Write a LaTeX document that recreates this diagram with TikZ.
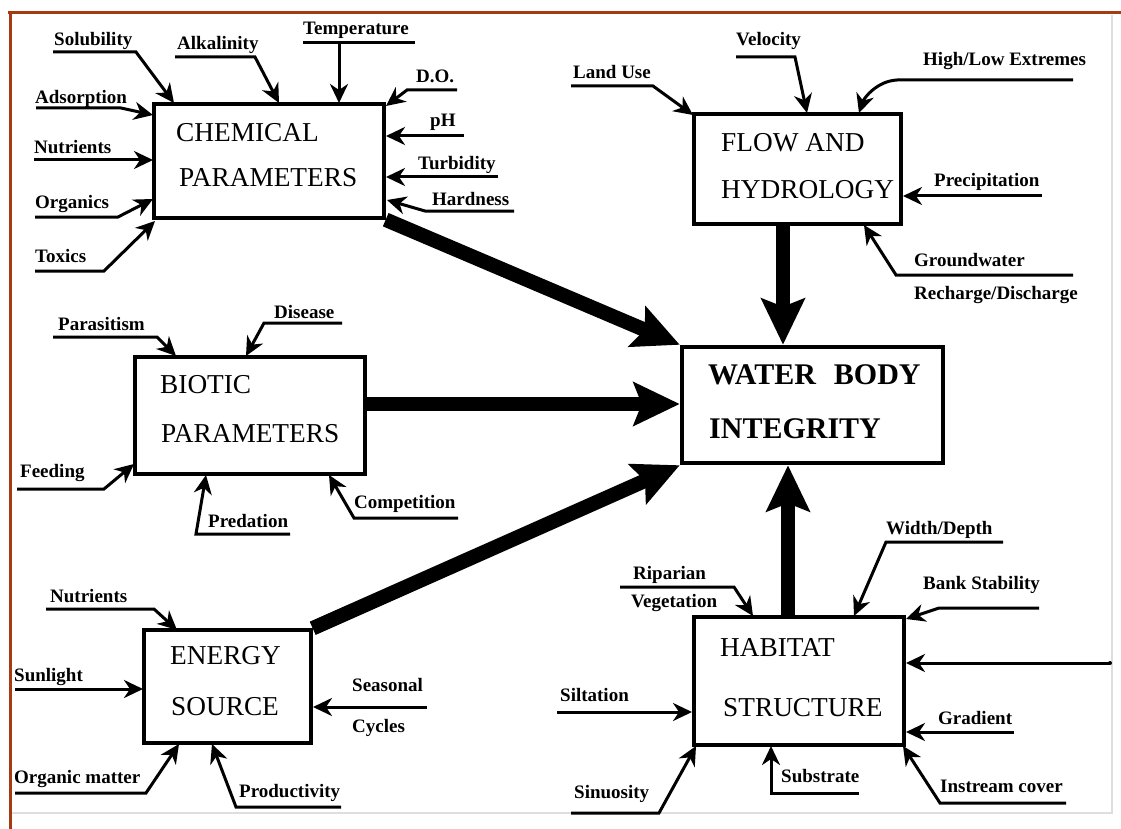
\documentclass[tikz,border=0pt]{standalone}
\usepackage{fontspec}
\setmainfont{Liberation Serif}
\usetikzlibrary{arrows.meta}
\definecolor{framebrown}{RGB}{168,58,18}
\definecolor{framegray}{RGB}{222,222,222}
\begin{document}
\begin{tikzpicture}[x=1pt,y=-1pt,
  lab/.style={font=\fontsize{19}{22}\selectfont\bfseries, anchor=west, inner sep=0pt, text height=12.8pt, text depth=0pt},
  ttl/.style={font=\fontsize{27.3}{31}\selectfont, anchor=west, inner sep=0pt, text height=18pt, text depth=0pt},
  bigttl/.style={font=\fontsize{30}{34}\selectfont\bfseries, anchor=west, inner sep=0pt, text height=20.3pt, text depth=0pt},
  boxnode/.style={draw, line width=3.4pt, rectangle, inner sep=0pt},
  inarrow/.style={line width=3pt, -{Stealth[length=19pt,width=18pt,inset=6pt]}},
  plainline/.style={line width=3pt},
  bigarrow/.style={line width=14.5pt, -{Stealth[length=46pt,width=43pt,inset=8pt]}}]
\useasboundingbox (0,0) rectangle (1121,829);
\fill[white] (0,0) rectangle (1121,829);
% frame
\draw[framegray, line width=1.2pt] (12,813) -- (1112,813) -- (1112,15);
\draw[framebrown, line width=3pt] (8,13) -- (1121,13);
\draw[framebrown, line width=3pt] (10,12) -- (10,829);

% boxes
\node[boxnode, minimum width=230pt, minimum height=114pt] (chem) at (269,161) {};
\node[boxnode, minimum width=207pt, minimum height=110pt] (flow) at (797.5,169) {};
\node[boxnode, minimum width=230pt, minimum height=117pt] (biotic) at (250,415.5) {};
\node[boxnode, line width=4.5pt, minimum width=261pt, minimum height=116pt] (water) at (812.5,405) {};
\node[boxnode, minimum width=167pt, minimum height=113pt] (energy) at (227.5,686.5) {};
\node[boxnode, minimum width=210pt, minimum height=128pt] (habitat) at (799,681) {};

% titles
\node[ttl] (t1) at (176,133) {CHEMICAL};
\node[ttl] (t2) at (179,178) {PARAMETERS};
\node[ttl] (t3) at (721,143) {FLOW AND};
\node[ttl] (t4) at (721,190) {HYDROLOGY};
\node[ttl] (t5) at (160,384) {BIOTIC};
\node[ttl] (t6) at (161,433) {PARAMETERS};
\node[ttl] (t7) at (170,655) {ENERGY};
\node[ttl] (t8) at (171,706) {SOURCE};
\node[ttl] (t9) at (720,647) {HABITAT};
\node[ttl] (t10) at (723,707) {STRUCTURE};
\node[bigttl] (t11) at (708,374) {WATER\hspace{0.6em}BODY};
\node[bigttl] (t12) at (709,428) {INTEGRITY};

% thick arrows
\coordinate (fwx) at (783,0);
\coordinate (bwy) at (0,404);
\coordinate (hwx) at (788,0);
\draw[bigarrow] (chem.south east) -- (water.north west);
\draw[bigarrow] (flow.south -| fwx) -- (water.north -| fwx);
\draw[bigarrow] (biotic.east |- bwy) -- (water.west |- bwy);
\draw[bigarrow] (energy.north east) -- (water.south west);
\draw[bigarrow] (habitat.north -| hwx) -- (water.south -| hwx);

% ---- chemical inputs
\node[lab] (l1) at (54,39) {Solubility};
\coordinate (a1) at (53,52); \coordinate (b1) at (136,52); \coordinate (c1) at (174,103);
\draw[inarrow] (a1) -- (b1) -- (c1);
\node[lab] (l2) at (177,43) {Alkalinity};
\coordinate (a2) at (175,57); \coordinate (b2) at (255,57); \coordinate (c2) at (279,103);
\draw[inarrow] (a2) -- (b2) -- (c2);
\node[lab] (l3) at (303,28) {Temperature};
\coordinate (a3) at (303,43); \coordinate (b3) at (415,43); \coordinate (m3) at (339,43); \coordinate (c3) at (339,103);
\draw[plainline] (a3) -- (b3);
\draw[inarrow] (m3) -- (c3);
\node[lab] (l4) at (416,76) {D.O.};
\coordinate (a4) at (457,90); \coordinate (b4) at (407,90); \coordinate (c4) at (386,106);
\draw[inarrow] (a4) -- (b4) -- (c4);
\node[lab] (l5) at (430,120) {pH};
\coordinate (a5) at (464,136); \coordinate (c5) at (386,136);
\draw[inarrow] (a5) -- (c5);
\node[lab] (l6) at (418,163) {Turbidity};
\coordinate (a6) at (498,177); \coordinate (c6) at (386,177);
\draw[inarrow] (a6) -- (c6);
\node[lab] (l7) at (432,199) {Hardness};
\coordinate (a7) at (514,211); \coordinate (b7) at (425,211); \coordinate (c7) at (387,200);
\draw[inarrow] (a7) -- (b7) -- (c7);
\node[lab] (l8) at (35,97) {Adsorption};
\coordinate (a8) at (36,108); \coordinate (b8) at (121,108); \coordinate (c8) at (153,115);
\draw[inarrow] (a8) -- (b8) -- (c8);
\node[lab] (l9) at (34,147) {Nutrients};
\coordinate (a9) at (34,160); \coordinate (c9) at (153,160);
\draw[inarrow] (a9) -- (c9);
\node[lab] (l10) at (35,202) {Organics};
\coordinate (a10) at (35,217); \coordinate (b10) at (118,217); \coordinate (c10) at (153,199);
\draw[inarrow] (a10) -- (b10) -- (c10);
\node[lab] (l11) at (35,256) {Toxics};
\coordinate (a11) at (35,271); \coordinate (b11) at (104,271); \coordinate (c11) at (155,221);
\draw[inarrow] (a11) -- (b11) -- (c11);

% ---- flow inputs
\node[lab] (l12) at (573,72) {Land Use};
\coordinate (a12) at (571,86); \coordinate (b12) at (653,86); \coordinate (c12) at (693,115);
\draw[inarrow] (a12) -- (b12) -- (c12);
\node[lab] (l13) at (736,39) {Velocity};
\coordinate (a13) at (736,57); \coordinate (b13) at (795,57); \coordinate (c13) at (807,113);
\draw[inarrow] (a13) -- (b13) -- (c13);
\node[lab] (l14) at (923,59) {High/Low Extremes};
\coordinate (a14) at (1073,80); \coordinate (b14) at (897,80); \coordinate (c14) at (859,113);
\draw[inarrow] (a14) -- (b14) .. controls (877,81) and (864,98) .. (c14);
\node[lab] (l15) at (934,180) {Precipitation};
\coordinate (a15) at (1042,196); \coordinate (c15) at (903,196);
\draw[inarrow] (a15) -- (c15);
\node[lab] (l16) at (914,260) {Groundwater};
\node[lab] (l16b) at (914,293) {Recharge/Discharge};
\coordinate (a16) at (1073,275); \coordinate (b16) at (896,275); \coordinate (c16) at (864,225);
\draw[inarrow] (a16) -- (b16) -- (c16);

% ---- biotic inputs
\node[lab] (l17) at (58,324) {Parasitism};
\coordinate (a17) at (53,337); \coordinate (b17) at (157,337); \coordinate (c17) at (176,356);
\draw[inarrow] (a17) -- (b17) -- (c17);
\node[lab] (l18) at (274,312) {Disease};
\coordinate (a18) at (342,323); \coordinate (b18) at (264,323); \coordinate (c18) at (246,356);
\draw[inarrow] (a18) -- (b18) -- (c18);
\node[lab] (l19) at (20,471) {Feeding};
\coordinate (a19) at (17,489); \coordinate (b19) at (104,489); \coordinate (c19) at (134,464);
\draw[inarrow] (a19) -- (b19) -- (c19);
\node[lab] (l20) at (208,521) {Predation};
\coordinate (a20) at (290,534); \coordinate (b20) at (196,534); \coordinate (c20) at (206,475);
\draw[inarrow] (a20) -- (b20) -- (c20);
\node[lab] (l21) at (354,502) {Competition};
\coordinate (a21) at (458,518); \coordinate (b21) at (354,518); \coordinate (c21) at (329,475);
\draw[inarrow] (a21) -- (b21) -- (c21);

% ---- energy inputs
\node[lab] (l22) at (50,596) {Nutrients};
\coordinate (a22) at (46,609); \coordinate (b22) at (154,609); \coordinate (c22) at (177,630);
\draw[inarrow] (a22) -- (b22) -- (c22);
\node[lab] (l23) at (14,675) {Sunlight};
\coordinate (a23) at (15,689); \coordinate (c23) at (143,689);
\draw[inarrow] (a23) -- (c23);
\node[lab] (l24) at (352,685) {Seasonal};
\node[lab] (l24b) at (352,726) {Cycles};
\coordinate (a24) at (427,707); \coordinate (c24) at (313,707);
\draw[inarrow] (a24) -- (c24);
\node[lab] (l25) at (14,777) {Organic matter};
\coordinate (a25) at (15,793); \coordinate (b25) at (146,793); \coordinate (c25) at (179,744);
\draw[inarrow] (a25) -- (b25) -- (c25);
\node[lab] (l26) at (239,791) {Productivity};
\coordinate (a26) at (341,807); \coordinate (b26) at (236,807); \coordinate (c26) at (212,744);
\draw[inarrow] (a26) -- (b26) -- (c26);

% ---- habitat inputs
\node[lab] (l27) at (633,573) {Riparian};
\node[lab] (l27b) at (631,601) {Vegetation};
\coordinate (a27) at (620,587); \coordinate (b27) at (734,587); \coordinate (c27) at (753,616);
\draw[inarrow] (a27) -- (b27) -- (c27);
\node[lab] (l28) at (886,528) {Width/Depth};
\coordinate (a28) at (1003,542); \coordinate (b28) at (886,542); \coordinate (c28) at (854,616);
\draw[inarrow] (a28) -- (b28) -- (c28);
\node[lab] (l29) at (923,583) {Bank Stability};
\coordinate (a29) at (1039,608); \coordinate (b29) at (939,608); \coordinate (c29) at (906,619);
\draw[inarrow] (a29) -- (b29) -- (c29);
\coordinate (a30) at (1110,663); \coordinate (c30) at (906,663);
\draw[inarrow] (a30) -- (c30);
\fill (a30) circle (2pt);
\node[lab] (l31) at (938,718) {Gradient};
\coordinate (a31) at (1014,732); \coordinate (c31) at (906,732);
\draw[inarrow] (a31) -- (c31);
\node[lab] (l32) at (940,786) {Instream cover};
\coordinate (a32) at (1066,803); \coordinate (b32) at (940,803); \coordinate (c32) at (903,746);
\draw[inarrow] (a32) -- (b32) -- (c32);
\node[lab] (l33) at (781,776) {Substrate};
\coordinate (a33) at (859,793); \coordinate (b33) at (771,793); \coordinate (c33) at (771,746);
\draw[inarrow] (a33) -- (b33) -- (c33);
\node[lab] (l34) at (560,695) {Siltation};
\coordinate (a34) at (557,712); \coordinate (c34) at (692,712);
\draw[inarrow] (a34) -- (c34);
\node[lab] (l35) at (574,792) {Sinuosity};
\coordinate (a35) at (571,813); \coordinate (b35) at (659,813); \coordinate (c35) at (696,746);
\draw[inarrow] (a35) -- (b35) -- (c35);
\end{tikzpicture}
\end{document}
